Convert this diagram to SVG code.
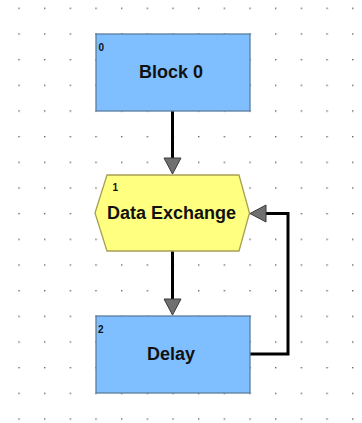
<svg xmlns="http://www.w3.org/2000/svg" width="362" height="423" viewBox="0 0 362 423">
  <defs>
    <pattern id="grid" x="18.3" y="7.6" width="25.67" height="25.67" patternUnits="userSpaceOnUse">
      <rect x="0" y="0" width="1.4" height="1.4" fill="#666"/>
    </pattern>
    <marker id="arrow" markerUnits="userSpaceOnUse" markerWidth="18" markerHeight="18" refX="0" refY="8.5" orient="auto" viewBox="0 0 18 18" overflow="visible">
      <path d="M0,0 L16,8.5 L0,17 Z" fill="#707070" stroke="#3a3a3a" stroke-width="1"/>
    </marker>
    <style>
      .block { fill: #80BFFF; stroke: #5B7D9E; stroke-width: 1.3; }
      .hex { fill: #FFFF80; stroke: #A89F55; stroke-width: 1.3; }
      .title { font-family: "Liberation Sans", Arial, sans-serif; font-size: 18px; font-weight: bold; fill: #111; text-anchor: middle; }
      .idx { font-family: "Liberation Sans", Arial, sans-serif; font-size: 10px; font-weight: bold; fill: #111; }
      .edge { fill: none; stroke: #000; stroke-width: 3; marker-end: url(#arrow); }
    </style>
  </defs>
  <rect x="0" y="0" width="362" height="423" fill="#fff"/>
  <rect x="0" y="0" width="362" height="423" fill="url(#grid)"/>

  <g id="connectors">
    <path class="edge" d="M172.5,111 V158"/>
    <path class="edge" d="M172.5,251 V299"/>
    <path class="edge" d="M250,354 H288 V213.5 H266"/>
  </g>

  <g id="node0">
    <rect class="block" x="96" y="34" width="154" height="77"/>
    <text class="idx" x="98.5" y="51">0</text>
    <text class="title" x="171" y="78">Block 0</text>
  </g>

  <g id="node1">
    <polygon class="hex" points="95,213 107,175 239,175 249.5,213 239,251 107,251"/>
    <text class="idx" x="112.5" y="191">1</text>
    <text class="title" x="171.5" y="219">Data Exchange</text>
  </g>

  <g id="node2">
    <rect class="block" x="96" y="316" width="154" height="77"/>
    <text class="idx" x="98" y="333">2</text>
    <text class="title" x="171" y="360">Delay</text>
  </g>
</svg>
